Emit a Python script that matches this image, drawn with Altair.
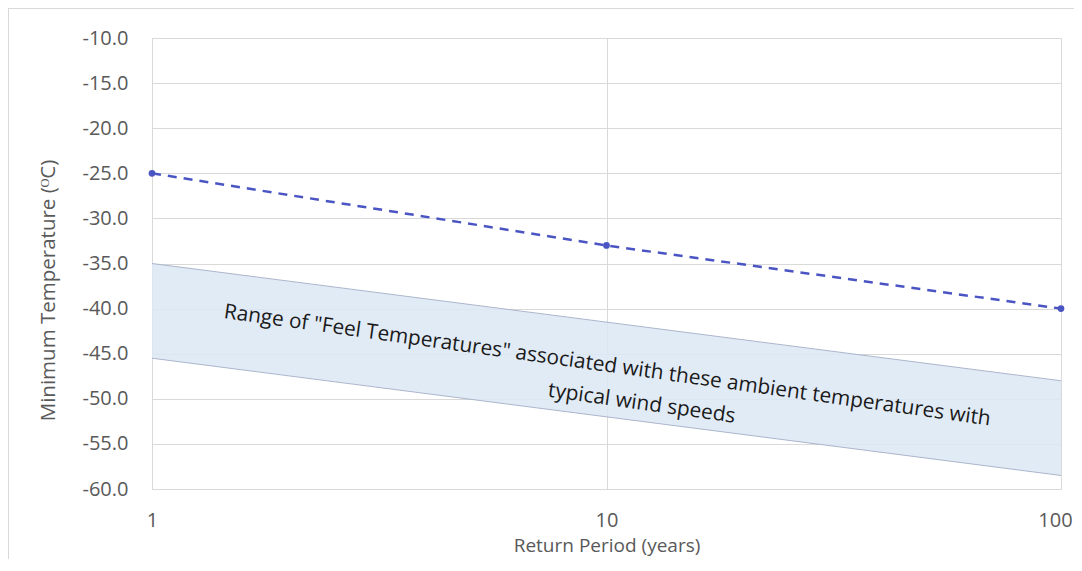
import altair as alt
import pandas as pd

# Data
return_period = [1, 10, 100]
min_temperature = [-25.0, -33.0, -40.0]

band_period = [1, 100]
band_upper = [-35.0, -48.0]
band_lower = [-45.5, -58.5]

label_lines = ['Range of "Feel Temperatures" associated with these ambient temperatures with',
               'typical wind speeds']
label_period = [10.0, 11.9]
label_temp = [-47.0, -51.2]

y_ticks = [-60, -55, -50, -45, -40, -35, -30, -25, -20, -15, -10]
x_ticks = [1, 10, 100]

line_df = pd.DataFrame({"period": return_period, "temp": min_temperature})
band_df = pd.DataFrame({"period": band_period, "upper": band_upper, "lower": band_lower})
label_df = pd.DataFrame({"period": label_period, "temp": label_temp, "text": label_lines})

FONT = "Open Sans"
GRAY = "#595959"

xscale = alt.Scale(type="log", domain=[1, 100], nice=False)
yscale = alt.Scale(domain=[-60, -10], nice=False, zero=False)

xaxis = alt.Axis(values=x_ticks, title="Return Period (years)", grid=True, gridColor="#d9d9d9",
                 domain=False, ticks=False, labelPadding=21, labelFontSize=20, labelColor=GRAY,
                 labelFont=FONT, titleFont=FONT, titleFontSize=19, titleColor=GRAY,
                 titleFontWeight="normal", titleY=56, titleBaseline="middle",
                 labelFlush=False, labelExpr="datum.value",
                 labelOffset={"condition": {"test": "datum.value == 100", "value": -6}, "value": 0})
yaxis = alt.Axis(values=y_ticks, title="Minimum Temperature (ᴼC)", grid=True, gridColor="#d9d9d9",
                 domain=False, ticks=False, labelPadding=24, labelFontSize=20, labelColor=GRAY,
                 labelFont=FONT, titleFont=FONT, titleFontSize=20.5, titleColor=GRAY,
                 titleFontWeight="normal", titleX=-104, titleY=252, titleBaseline="middle",
                 titleAngle=270, titleAlign="center",
                 labelExpr="replace(format(datum.value, '.1f'), '\u2212', '-')")

base_x = alt.X("period:Q", scale=xscale, axis=xaxis)

band = alt.Chart(band_df).mark_area(color="#dce8f5", opacity=0.85).encode(
    x=base_x,
    y=alt.Y("upper:Q", scale=yscale, axis=yaxis),
    y2="lower:Q",
)
band_top = alt.Chart(band_df).mark_line(color="#abb6cb", strokeWidth=1).encode(
    x=alt.X("period:Q", scale=xscale), y=alt.Y("upper:Q", scale=yscale))
band_bottom = alt.Chart(band_df).mark_line(color="#abb6cb", strokeWidth=1).encode(
    x=alt.X("period:Q", scale=xscale), y=alt.Y("lower:Q", scale=yscale))

dashed = alt.Chart(line_df).mark_line(color="#4a55c3", strokeWidth=2.5, strokeDash=[9, 7]).encode(
    x=alt.X("period:Q", scale=xscale), y=alt.Y("temp:Q", scale=yscale))
points = alt.Chart(line_df).mark_circle(color="#4a55c3", size=45, opacity=1).encode(
    x=alt.X("period:Q", scale=xscale), y=alt.Y("temp:Q", scale=yscale))

labels = alt.Chart(label_df).mark_text(font=FONT, fontSize=20.8, color="#1a1a1a", angle=8,
                                       align="center", baseline="alphabetic").encode(
    x=alt.X("period:Q", scale=xscale), y=alt.Y("temp:Q", scale=yscale), text="text:N")

border_left = alt.Chart(line_df).mark_rule(color="#d9d9d9", strokeWidth=1).encode(
    x=alt.value(-143.5), y=alt.value(-29.5), y2=alt.value(530))
border_top = alt.Chart(line_df).mark_rule(color="#d9d9d9", strokeWidth=1).encode(
    x=alt.value(-143.5), x2=alt.value(930), y=alt.value(-29.5))

chart = alt.layer(band, band_top, band_bottom, dashed, points, labels, border_left, border_top).properties(
    width=909, height=451,
    autosize=alt.AutoSizeParams(type="none"),
    padding={"left": 144, "top": 30, "right": 13, "bottom": 70},
).configure_view(stroke=None).configure(background="white")

chart.save("out.html", embed_options={"renderer": "svg", "actions": False})
